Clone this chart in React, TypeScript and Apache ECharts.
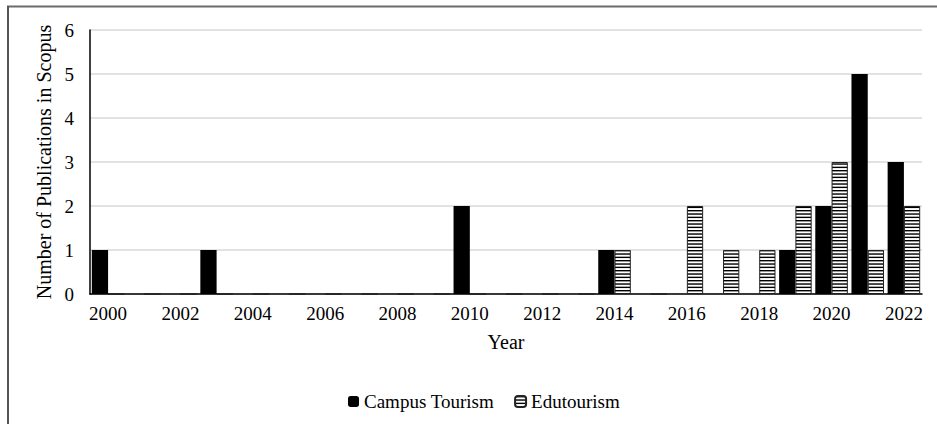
import React, { useEffect, useRef } from "react";
import * as echarts from "echarts";

const years = [
  "2000", "2001", "2002", "2003", "2004", "2005", "2006", "2007", "2008", "2009", "2010", "2011",
  "2012", "2013", "2014", "2015", "2016", "2017", "2018", "2019", "2020", "2021", "2022",
];
const campusTourism = [1, 0, 0, 1, 0, 0, 0, 0, 0, 0, 2, 0, 0, 0, 1, 0, 0, 0, 0, 1, 2, 5, 3];
const edutourism = [0, 0, 0, 0, 0, 0, 0, 0, 0, 0, 0, 0, 0, 0, 1, 0, 2, 1, 1, 2, 3, 1, 2];

const FONT = "'Liberation Serif', 'Times New Roman', serif";

function makeStripePattern(): HTMLCanvasElement {
  const c = document.createElement("canvas");
  c.width = 4;
  c.height = 10;
  const ctx = c.getContext("2d")!;
  ctx.fillStyle = "#ffffff";
  ctx.fillRect(0, 0, 4, 10);
  ctx.fillStyle = "#000000";
  for (let i = 0; i < 3; i++) {
    ctx.fillRect(0, i * (10 / 3), 4, 1.4);
  }
  return c;
}

export default function App() {
  const ref = useRef<HTMLDivElement>(null);
  useEffect(() => {
    if (!ref.current) return;
    const chart = echarts.init(ref.current, undefined, { renderer: "svg" });
    const pattern = { image: makeStripePattern(), repeat: "repeat" };
    chart.setOption({
      animation: false,
      backgroundColor: "#ffffff",
      textStyle: { fontFamily: FONT, color: "#000" },
      grid: { left: 90, right: 15, top: 30, bottom: 130, containLabel: false },
      legend: {
        left: 343,
        top: 387,
        itemWidth: 11,
        itemHeight: 11,
        itemGap: 20,
        textStyle: { fontFamily: FONT, fontSize: 19, color: "#000" },
        data: ["Campus Tourism", "Edutourism"],
      },
      xAxis: {
        type: "category",
        data: years,
        name: "Year",
        nameLocation: "middle",
        nameGap: 38,
        nameTextStyle: { fontFamily: FONT, fontSize: 20, color: "#000" },
        axisLine: { show: true, lineStyle: { color: "#000", width: 1.5 } },
        axisTick: { show: false },
        axisLabel: { interval: 1, margin: 10, fontFamily: FONT, fontSize: 19, color: "#000" },
        splitLine: { show: false },
      },
      yAxis: {
        type: "value",
        min: 0,
        max: 6,
        interval: 1,
        name: "Number of Publications in Scopus",
        nameLocation: "middle",
        nameGap: 34,
        nameRotate: 90,
        nameTextStyle: { fontFamily: FONT, fontSize: 20, color: "#000" },
        axisLine: { show: true, lineStyle: { color: "#000", width: 1.5 } },
        axisTick: { show: false },
        axisLabel: { margin: 16, fontFamily: FONT, fontSize: 19, color: "#000" },
        splitLine: { show: true, lineStyle: { color: "#d9d9d9", width: 1.5 } },
      },
      series: [
        {
          name: "Campus Tourism",
          type: "bar",
          data: campusTourism,
          barGap: "0%",
          barCategoryGap: "10%",
          itemStyle: { color: "#000000" },
        },
        {
          name: "Edutourism",
          type: "bar",
          data: edutourism,
          barGap: "0%",
          barCategoryGap: "10%",
          itemStyle: { color: pattern, borderColor: "#222", borderWidth: 1 },
        },
      ],
      graphic: [
        { type: "line", shape: { x1: 7, y1: 6.5, x2: 937, y2: 6.5 }, style: { stroke: "#6b6b6b", lineWidth: 2 } },
        { type: "line", shape: { x1: 8, y1: 6, x2: 8, y2: 424 }, style: { stroke: "#555", lineWidth: 2 } },
      ],
    });
    return () => chart.dispose();
  }, []);
  return (
    <div
      ref={ref}
      style={{ position: "fixed", left: 0, top: 0, width: 937, height: 424, background: "#fff" }}
    />
  );
}
